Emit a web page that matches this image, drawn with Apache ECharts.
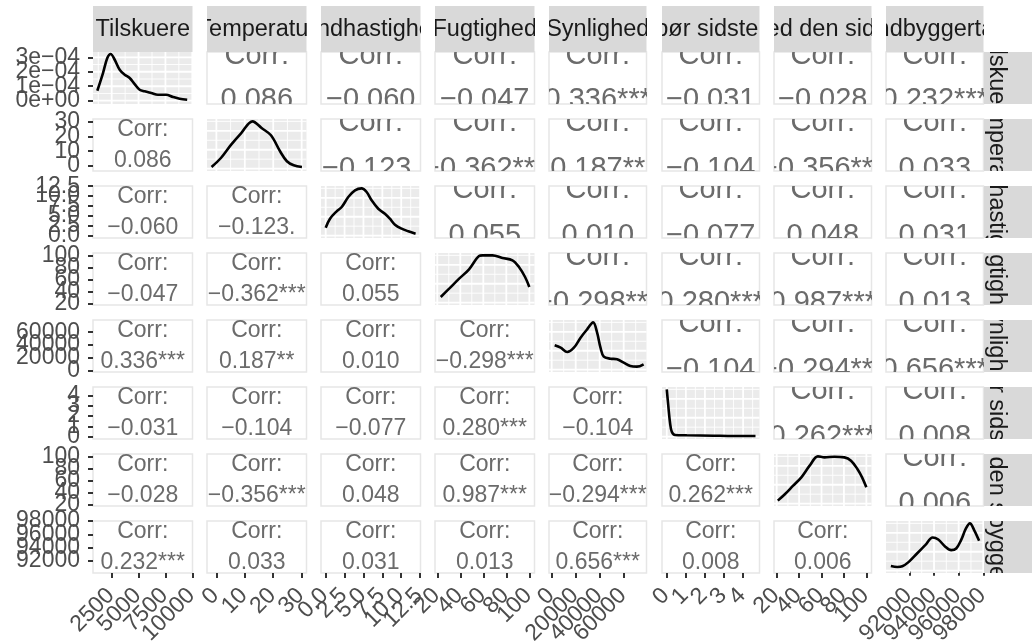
<!DOCTYPE html>
<html><head><meta charset="utf-8">
<script src="https://cdn.jsdelivr.net/npm/echarts@6/dist/echarts.min.js"></script>
<style>html,body{margin:0;padding:0;background:#fff}#c{width:1032px;height:644px}</style>
</head><body><div id="c"></div>
<script>
// ---------- data ----------
const varNames = ["Tilskuere","Temperatur","Vindhastighed","Fugtighed","Synlighed","Nedbør sidste time","Fugtighed den sidste time","Indbyggertal"];

// correlations, upper triangle, row by row
const corrValues = [0.086,-0.060,-0.047,0.336,-0.031,-0.028,0.232,
  -0.123,-0.362,0.187,-0.104,-0.356,0.033,
  0.055,0.010,-0.077,0.048,0.031,
  -0.298,0.280,0.987,0.013,
  -0.104,-0.294,0.656,
  0.262,0.008,
  0.006];
const corrStars = ["","","","***","","","***",
  ".","***","**","","***","",
  "","","","","",
  "***","***","***","",
  "","***","***",
  "***","",
  ""];

// diagonal densities (panel 1 in real density units, others scaled so the peak = 1)
const dens1X = [1162,1691,2091,2407,2779,3244,3708,4173,4638,5102,5567,6180,6803,7575,8197,8820,9526];
const dens1Y = [0.69e-4,1.91e-4,2.95e-4,3.23e-4,2.83e-4,2.14e-4,1.80e-4,1.57e-4,1.15e-4,0.76e-4,0.65e-4,0.53e-4,0.41e-4,0.41e-4,0.26e-4,0.14e-4,0.07e-4];
const dens2X = [-1.7,1.6,5.2,8.75,12.7,15.9,19.2,22.4,24.8,27.2,30.1];
const dens2Y = [0.035,0.225,0.507,0.753,1.0,0.859,0.705,0.367,0.156,0.071,0.035];
const dens3X = [0,0.57,1.45,2.12,2.99,3.88,4.76,5.42,6.08,6.96,7.84,8.5,9.17,10.05,10.93,11.9];
const dens3Y = [0.168,0.358,0.514,0.605,0.816,0.958,1.0,0.923,0.747,0.569,0.464,0.358,0.232,0.147,0.092,0.042];
const dens4X = [23,30.3,39,47.6,56.3,59.3,68,76.6,85.3,91,96.3,100];
const dens4Y = [0.12,0.295,0.507,0.705,0.986,1.0,1.0,0.944,0.896,0.754,0.542,0.331];
const dens5X = [2490,7469,12946,18507,24067,29544,34524,37843,40665,43403,48964,54441,60002,65562,71040,76600];
const dens5Y = [0.514,0.464,0.374,0.464,0.676,0.853,1.0,0.781,0.464,0.274,0.232,0.219,0.147,0.077,0.063,0.113];
const dens6X = [0,0.084,0.174,0.263,0.437,1.05,2.45,3.51,4.65];
const dens6Y = [1.0,0.633,0.283,0.104,0.035,0.029,0.02,0.014,0.014];
const dens7X = [21,27.5,34.7,42,49.4,56.8,62.7,71.5,80.4,86.3,92,96.2,100];
const dens7Y = [0.064,0.204,0.38,0.556,0.803,1.0,0.979,0.993,0.979,0.909,0.733,0.556,0.345];
const dens8X = [90496,91019,91423,91953,92619,93284,93894,94345,94876,95398,95802,96198,96594,96919,97260,97664];
const dens8Y = [0.099,0.078,0.092,0.185,0.362,0.538,0.702,0.659,0.518,0.433,0.468,0.645,0.893,1.0,0.858,0.631];

// tick values and labels
const ticks1 = [2500,5000,7500,10000];        const labels1 = ["2500","5000","7500","10000"];
const ticks2 = [0,10,20,30];                  const labels2 = ["0","10","20","30"];
const ticks3 = [0,2.5,5,7.5,10,12.5];         const labels3 = ["0.0","2.5","5.0","7.5","10.0","12.5"];
const ticks4 = [20,40,60,80,100];             const labels4 = ["20","40","60","80","100"];
const ticks5 = [0,20000,40000,60000];         const labels5 = ["0","20000","40000","60000"];
const ticks6 = [0,1,2,3,4];                   const labels6 = ["0","1","2","3","4"];
const ticks7 = [20,40,60,80,100];             const labels7 = ["20","40","60","80","100"];
const ticks8 = [92000,94000,96000,98000];     const labels8 = ["92000","94000","96000","98000"];
const densTicks = [0,1e-4,2e-4,3e-4];         const densLabels = ["0e+00","1e\u221204","2e\u221204","3e\u221204"];
const relDensTicks = [0,0.4,0.8];

// ---------- scales / layout ----------
const ranges = [[760,10020],[-3.3,31.7],[-0.62,12.55],[18,104.5],[-2240,79000],[-0.25,4.86],[17.6,104.6],[90100,98020]];
const dens1Range = [-0.228e-4,3.366e-4];
const relRange = [-0.05,1.05];
const colLeft = [93,207,321,435,549,662,774,886];
const colW = [99.5,99.5,99.5,99.5,97.5,97.5,97.5,97.5];
const rowTop = [52,119,186,253,320,387,454,521];
const rowH = 52;
const FONT = "'Liberation Sans', Arial, Helvetica, sans-serif";

const densX = [dens1X,dens2X,dens3X,dens4X,dens5X,dens6X,dens7X,dens8X];
const densY = [dens1Y,dens2Y,dens3Y,dens4Y,dens5Y,dens6Y,dens7Y,dens8Y];
const tickVals = [ticks1,ticks2,ticks3,ticks4,ticks5,ticks6,ticks7,ticks8];
const tickLabs = [labels1,labels2,labels3,labels4,labels5,labels6,labels7,labels8];

function minorOf(vals, lo, hi){
  const out=[]; const step = vals[1]-vals[0];
  for (let i=-1;i<vals.length;i++){
    const m = (i<0 ? vals[0]-step/2 : vals[i]+step/2);
    if (m>lo && m<hi) out.push(m);
  }
  return out;
}
function corrText(v, s){
  return (v<0?'\u2212':'') + Math.abs(v).toFixed(3) + s;
}
function corrIndex(i,j){ // i<j
  let k=0; for (let r=0;r<i;r++) k += 7-r; return k + (j-i-1);
}

const grids=[], xAxes=[], yAxes=[], series=[];
function addCell(gridOpt, xa, ya){
  grids.push(Object.assign({outerBoundsMode:'none', containLabel:false}, gridOpt));
  const idx = grids.length-1;
  xAxes.push(Object.assign({gridIndex: idx, type:'value'}, xa));
  yAxes.push(Object.assign({gridIndex: idx, type:'value'}, ya));
  return idx;
}
const hidden = {show:false, axisLine:{show:false}, axisTick:{show:false}, axisLabel:{show:false}, splitLine:{show:false}};
const labelStyle = {fill:'#4D4D4D', fontSize:23, fontFamily:FONT};

// tick labels positioned through the axis scale (api.coord)
function axisLabelSeries(idx, vals, labs, isX, xMin, yMin){
  series.push({type:'custom', xAxisIndex: idx, yAxisIndex: idx, silent:true, z:6, clip:false, animation:false,
    data: vals.map((v,i)=>[v, i]),
    renderItem: function(p, api){
      const cs = p.coordSys; const v = api.value(0); const i = api.value(1);
      if (isX){
        const x = api.coord([v, yMin])[0];
        return {type:'text', x: x - 1, y: cs.y + cs.height + 19, rotation: Math.PI/4,
          style: Object.assign({text: labs[i], align:'right', verticalAlign:'middle'}, labelStyle)};
      } else {
        const y = api.coord([xMin, v])[1];
        return {type:'text', x: cs.x - 13, y: y,
          style: Object.assign({text: labs[i], align:'right', verticalAlign:'middle'}, labelStyle)};
      }
    }});
}

for (let r=0;r<8;r++){
  for (let c=0;c<8;c++){
    const diag = r===c;
    const yR = diag ? (r===0 ? dens1Range : relRange) : ranges[r];
    const xa = Object.assign({}, hidden, {min: ranges[c][0], max: ranges[c][1]});
    if (r===7){
      Object.assign(xa, {show:true,
        axisTick:{show:true, customValues: tickVals[c], length:5, lineStyle:{color:'#333333', width:2}},
        axisLabel:{show:false}});
    }
    const ya = Object.assign({}, hidden, {min: yR[0], max: yR[1]});
    const yv = r===0 ? densTicks : tickVals[r];
    const yl = r===0 ? densLabels : tickLabs[r];
    if (c===0){
      Object.assign(ya, {show:true,
        axisTick:{show:true, customValues: yv, length:5, lineStyle:{color:'#333333', width:2}},
        axisLabel:{show:false}});
    }
    const idx = addCell({left: colLeft[c], top: rowTop[r], width: colW[c], height: rowH, show:true,
        backgroundColor: diag ? '#EBEBEB' : '#FFFFFF', borderColor: diag ? '#EBEBEB' : '#E6E6E6', borderWidth: diag ? 0 : 1.5}, xa, ya);
    if (r===7) axisLabelSeries(idx, tickVals[c], tickLabs[c], true, ranges[c][0], yR[0]);
    if (c===0) axisLabelSeries(idx, yv, yl, false, ranges[c][0], yR[0]);

    if (diag){
      // panel grid lines
      const lines=[];
      tickVals[c].forEach(v=>{ if (v>ranges[c][0] && v<ranges[c][1]) lines.push([v,0,1]); });
      minorOf(tickVals[c], ranges[c][0], ranges[c][1]).forEach(v=>lines.push([v,0,0]));
      const yt = r===0 ? densTicks : relDensTicks;
      yt.forEach(v=>{ if (v>yR[0] && v<yR[1]) lines.push([v,1,1]); });
      minorOf(yt, yR[0], yR[1]).forEach(v=>lines.push([v,1,0]));
      const xMin = ranges[c][0], yMin = yR[0];
      series.push({type:'custom', xAxisIndex: idx, yAxisIndex: idx, silent:true, z:1, clip:true, animation:false,
        data: lines,
        renderItem: function(p, api){
          const cs = p.coordSys; const v = api.value(0), dir = api.value(1), maj = api.value(2);
          let shape;
          if (dir===0){ const x = api.coord([v, yMin])[0]; shape = {x1:x, y1:cs.y, x2:x, y2:cs.y+cs.height}; }
          else { const y = api.coord([xMin, v])[1]; shape = {x1:cs.x, y1:y, x2:cs.x+cs.width, y2:y}; }
          return {type:'line', shape: shape, style:{stroke:'#FFFFFF', lineWidth: maj ? 1.8 : 0.9}};
        }});
      series.push({type:'line', xAxisIndex: idx, yAxisIndex: idx, silent:true, z:3, clip:true, animation:false,
        showSymbol:false, symbol:'none', smooth:0.35,
        lineStyle:{color:'#000000', width:2.6},
        data: densX[c].map((x,i)=>[x, densY[c][i]])});
    } else {
      const upper = c>r;
      const k = upper ? corrIndex(r,c) : corrIndex(c,r);
      const txt = corrText(corrValues[k], corrStars[k]);
      series.push({type:'custom', xAxisIndex: idx, yAxisIndex: idx, silent:true, z:4, clip:true, animation:false,
        data: [[ (ranges[c][0]+ranges[c][1])/2, (yR[0]+yR[1])/2 ]],
        renderItem: function(p, api){
          const cs = p.coordSys;
          const fs = upper ? 29 : 23;
          const y1 = upper ? 3.5 : 11, y2 = upper ? (r===0 ? 47.5 : 50) : 42;
          const st = (t)=>({text:t, fill:'#6B6B6B', fontSize:fs, fontFamily:FONT, align:'center', verticalAlign:'middle'});
          return {type:'group', children:[
            {type:'text', x: cs.x+cs.width/2, y: cs.y+y1, style: st('Corr:')},
            {type:'text', x: cs.x+cs.width/2, y: cs.y+y2, style: st(txt)}
          ]};
        }});
    }
  }
}

// strips
function stripSeries(idx, name, vertical){
  series.push({type:'custom', xAxisIndex: idx, yAxisIndex: idx, silent:true, z:5, clip:true, animation:false,
    data: [[0.5,0.5]],
    renderItem: function(p, api){
      const cs = p.coordSys;
      const t = {type:'text', style:{text:name, fill:'#1A1A1A', fontSize:23.5, fontFamily:FONT, align:'center', verticalAlign:'middle'}};
      if (vertical){ t.x = cs.x + 12; t.y = cs.y + cs.height/2; t.rotation = -Math.PI/2; }
      else { t.x = cs.x + cs.width/2; t.y = cs.y + cs.height/2 + 1; }
      return {type:'group', children:[
        {type:'rect', shape:{x:cs.x, y:cs.y, width:cs.width, height:cs.height}, style:{fill:'#D9D9D9'}},
        t
      ]};
    }});
}
for (let c=0;c<8;c++){
  const idx = addCell({left: colLeft[c], top: 6, width: colW[c], height: 46, show:false},
    Object.assign({}, hidden, {min:0, max:1}), Object.assign({}, hidden, {min:0, max:1}));
  stripSeries(idx, varNames[c], false);
}
for (let r=0;r<8;r++){
  const idx = addCell({left: 984, top: rowTop[r], width: 48, height: rowH, show:false},
    Object.assign({}, hidden, {min:0, max:1}), Object.assign({}, hidden, {min:0, max:1}));
  stripSeries(idx, varNames[r], true);
}

const chart = echarts.init(document.getElementById('c'), null, {renderer:'canvas', width:1032, height:644});
chart.setOption({animation:false, backgroundColor:'#FFFFFF', grid: grids, xAxis: xAxes, yAxis: yAxes, series: series});
</script>
</body></html>
